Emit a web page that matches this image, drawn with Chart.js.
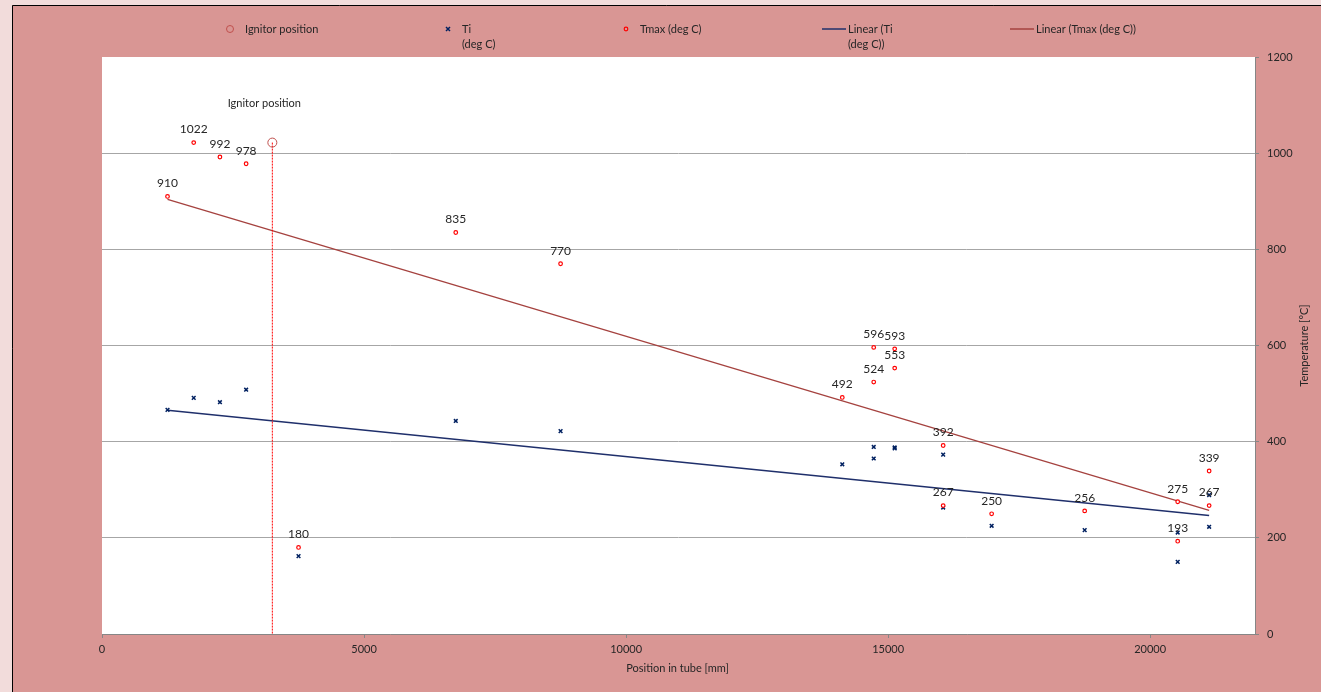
<!DOCTYPE html>
<html>
<head>
<meta charset="utf-8">
<script src="https://cdn.jsdelivr.net/npm/chart.js@4/dist/chart.umd.min.js"></script>
<style>
  html, body { margin: 0; padding: 0; background: #f2dcdb; }
  #wrap { width: 1321px; height: 692px; }
</style>
</head>
<body>
<div id="wrap"><canvas id="tubeChart" width="1321" height="692"></canvas></div>
<script>
// position along the tube [mm]
const positions = [1250, 1750, 2250, 2750, 3750, 6750, 8750, 14125, 14725, 14725, 15125, 15125, 16050, 16050, 16975, 18750, 20525, 20525, 21125, 21125];
// max temperature [deg C]
const tmax = [910, 1022, 992, 978, 180, 835, 770, 492, 596, 524, 593, 553, 392, 267, 250, 256, 275, 193, 339, 267];
// Ti [deg C]
const ti = [466, 491, 482, 508, 162, 443, 422, 353, 389, 365, 388, 386, 373, 263, 225, 216, 211, 150, 289, 223];
// ignitor
const ignitorX = [3250];
const ignitorY = [1022];

const xTicks = [0, 5000, 10000, 15000, 20000];
const yTicks = [0, 200, 400, 600, 800, 1000, 1200];

const FONT = "Lato, 'Open Sans', sans-serif";
const TEXT = "#262626";

// least squares line, drawn from first to last position
function linearTrend(xs, ys) {
  const n = xs.length;
  const mx = xs.reduce((a, b) => a + b, 0) / n;
  const my = ys.reduce((a, b) => a + b, 0) / n;
  let sxy = 0, sxx = 0;
  for (let i = 0; i < n; i++) {
    sxy += (xs[i] - mx) * (ys[i] - my);
    sxx += (xs[i] - mx) * (xs[i] - mx);
  }
  const k = sxy / sxx;
  const x0 = Math.min(...xs), x1 = Math.max(...xs);
  return [{ x: x0, y: my + k * (x0 - mx) }, { x: x1, y: my + k * (x1 - mx) }];
}

const pts = (xs, ys) => xs.map((x, i) => ({ x: x, y: ys[i] }));

// backgrounds, labels, legend and axis titles
const decor = {
  id: "decor",
  beforeDraw(chart) {
    const { ctx, chartArea: a } = chart;
    ctx.save();
    ctx.fillStyle = "#f2dcdb";
    ctx.fillRect(0, 0, chart.width, chart.height);
    ctx.fillStyle = "#d99694";
    ctx.fillRect(12, 5, chart.width - 12, chart.height - 5);
    ctx.strokeStyle = "#000";
    ctx.lineWidth = 1;
    ctx.beginPath();
    ctx.moveTo(12.5, chart.height);
    ctx.lineTo(12.5, 5.5);
    ctx.lineTo(chart.width, 5.5);
    ctx.stroke();
    ctx.fillStyle = "#fff";
    ctx.fillRect(a.left, a.top, a.right - a.left, a.bottom - a.top);
    ctx.restore();
  },
  afterDatasetsDraw(chart) {
    const ctx = chart.ctx;
    ctx.save();
    ctx.font = "12px " + FONT;
    ctx.fillStyle = TEXT;
    ctx.textAlign = "center";
    ctx.textBaseline = "middle";
    const tm = chart.getDatasetMeta(2);
    tm.data.forEach((el, i) => ctx.fillText(String(tmax[i]), el.x, el.y - 13));
    const ig = chart.getDatasetMeta(0).data[0];
    ctx.font = "11px " + FONT;
    ctx.fillText("Ignitor position", ig.x - 8, ig.y - 39);
    ctx.restore();
  },
  afterDraw(chart) {
    const ctx = chart.ctx;
    const a = chart.chartArea;
    ctx.save();
    ctx.font = "11px " + FONT;
    ctx.fillStyle = TEXT;
    ctx.textBaseline = "middle";
    ctx.textAlign = "left";
    const ly = 29;
    // legend: ignitor
    ctx.strokeStyle = "#c0504d";
    ctx.lineWidth = 1;
    ctx.beginPath(); ctx.arc(230, ly, 3.5, 0, Math.PI * 2); ctx.stroke();
    ctx.fillText("Ignitor position", 245, ly);
    // legend: Ti
    ctx.strokeStyle = "#002060";
    ctx.lineWidth = 1.5;
    ctx.beginPath();
    ctx.moveTo(446, ly - 2); ctx.lineTo(450, ly + 2);
    ctx.moveTo(446, ly + 2); ctx.lineTo(450, ly - 2);
    ctx.stroke();
    ctx.fillText("Ti", 462, ly);
    ctx.fillText("(deg C)", 462, ly + 15);
    // legend: Tmax
    ctx.strokeStyle = "#ff0000";
    ctx.lineWidth = 1.2;
    ctx.beginPath(); ctx.arc(626, ly, 1.8, 0, Math.PI * 2); ctx.stroke();
    ctx.fillText("Tmax (deg C)", 640, ly);
    // legend: trends
    ctx.lineWidth = 1.5;
    ctx.strokeStyle = "#1f2f6b";
    ctx.beginPath(); ctx.moveTo(822, ly); ctx.lineTo(846, ly); ctx.stroke();
    ctx.fillText("Linear (Ti", 848, ly);
    ctx.fillText("(deg C))", 848, ly + 15);
    ctx.strokeStyle = "#a5423f";
    ctx.beginPath(); ctx.moveTo(1010, ly); ctx.lineTo(1034, ly); ctx.stroke();
    ctx.fillText("Linear (Tmax (deg C))", 1036, ly);
    // axis titles
    ctx.textAlign = "center";
    ctx.fillText("Position in tube [mm]", (a.left + a.right) / 2 - 1, 668);
    ctx.translate(1304, (a.top + a.bottom) / 2);
    ctx.rotate(-Math.PI / 2);
    ctx.fillText("Temperature [°C]", 0, 0);
    ctx.restore();
  }
};

const ctx = document.getElementById("tubeChart").getContext("2d");
new Chart(ctx, {
  type: "scatter",
  data: {
    datasets: [
      {
        label: "Ignitor position",
        data: [pts(ignitorX, ignitorY)[0], { x: ignitorX[0], y: yTicks[0] }],
        showLine: true,
        borderColor: "#ff0000",
        borderWidth: 1,
        borderDash: [2, 1],
        pointStyle: "circle",
        pointRadius: [4.5, 0],
        pointBorderColor: "#c0504d",
        pointBackgroundColor: "rgba(0,0,0,0)",
        pointBorderWidth: 1,
        order: 1,
      },
      {
        label: "Ti\n(deg C)",
        data: pts(positions, ti),
        pointStyle: "crossRot",
        pointRadius: 2.6,
        borderColor: "#002060",
        pointBorderWidth: 1.5,
        order: 3,
      },
      {
        label: "Tmax (deg C)",
        data: pts(positions, tmax),
        pointStyle: "circle",
        pointRadius: 1.8,
        borderColor: "#ff0000",
        backgroundColor: "#ffffff",
        pointBorderWidth: 1.2,
        order: 2,
      },
      {
        label: "Linear (Ti (deg C))",
        data: linearTrend(positions, ti),
        showLine: true,
        borderColor: "#1f2f6b",
        borderWidth: 1.5,
        pointRadius: 0,
        order: 5,
      },
      {
        label: "Linear (Tmax (deg C))",
        data: linearTrend(positions, tmax),
        showLine: true,
        borderColor: "#a5423f",
        borderWidth: 1.3,
        pointRadius: 0,
        order: 4,
      },
    ],
  },
  options: {
    responsive: false,
    animation: false,
    layout: { padding: { left: 102, top: 57, right: 0, bottom: 0 } },
    plugins: {
      legend: { display: false },
      tooltip: { enabled: false },
    },
    scales: {
      x: {
        type: "linear",
        position: "bottom",
        min: 0,
        max: 22000,
        afterBuildTicks: (s) => { s.ticks = xTicks.map((v) => ({ value: v })); },
        afterFit: (s) => { s.height = 58; },
        ticks: {
          color: TEXT,
          font: { family: FONT, size: 11 },
          padding: 5,
          maxRotation: 0,
          callback: (v) => String(v),
        },
        grid: { drawOnChartArea: false, drawTicks: true, tickLength: 4, tickColor: "#868686" },
        border: { display: true, color: "#868686", width: 1 },
      },
      y: {
        type: "linear",
        position: "right",
        min: 0,
        max: 1200,
        afterBuildTicks: (s) => { s.ticks = yTicks.map((v) => ({ value: v })); },
        afterFit: (s) => { s.width = 66; },
        ticks: {
          color: TEXT,
          font: { family: FONT, size: 11 },
          padding: 8,
          callback: (v) => String(v),
        },
        grid: {
          color: (c) => (c.tick && (c.tick.value === 0 || c.tick.value === 1200) ? "rgba(0,0,0,0)" : "#a6a6a6"),
          lineWidth: 1,
          drawTicks: true,
          tickLength: 4,
          tickColor: "#868686",
        },
        border: { display: true, color: "#868686", width: 1 },
      },
    },
  },
  plugins: [decor],
});
</script>
</body>
</html>
